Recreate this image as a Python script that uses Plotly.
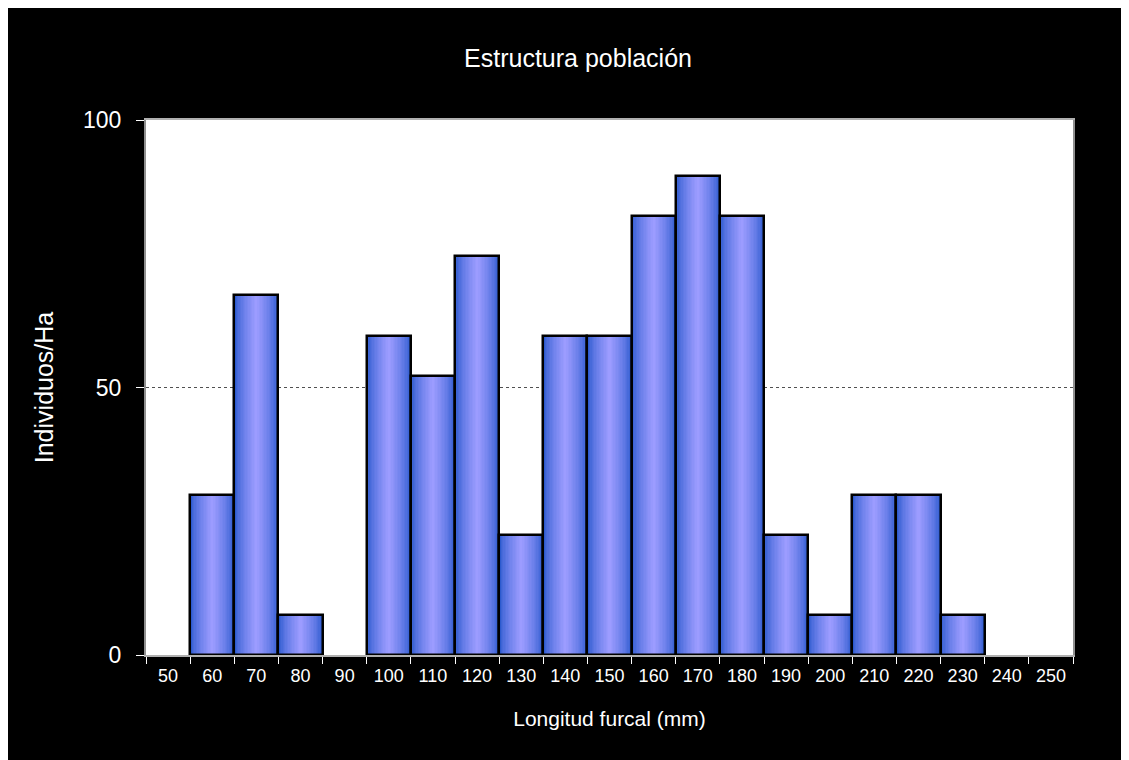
import plotly.graph_objects as go

# Longitud furcal (mm) - clases
clases = ["50", "60", "70", "80", "90", "100", "110", "120", "130", "140", "150",
          "160", "170", "180", "190", "200", "210", "220", "230", "240", "250"]
# Individuos/Ha por clase
individuos = [0, 29.85, 67.2, 7.46, 0, 59.7, 52.2, 74.6, 22.4, 59.7, 59.7,
              82.1, 89.5, 82.1, 22.4, 7.46, 29.85, 29.85, 7.46, 0, 0]

fuente = "Liberation Sans, Arial, sans-serif"
ANCHO, ALTO = 1129, 752

# las clases vacias no llevan barra (ni contorno)
valores = [v if v else None for v in individuos]

fig = go.Figure()

# degradado horizontal simulado con barras superpuestas cada vez mas estrechas
borde = (44, 90, 206)
centro = (156, 156, 255)
n_capas = 16
for i in range(n_capas):
    t = i / (n_capas - 1)
    w = 1.0 - 0.95 * t
    col = tuple(round(borde[k] + (centro[k] - borde[k]) * (t ** 0.7)) for k in range(3))
    fig.add_trace(go.Bar(
        x=clases, y=valores, width=w,
        marker=dict(color="rgb(%d,%d,%d)" % col, line=dict(width=0)),
        hoverinfo="skip", showlegend=False,
    ))

# contorno negro de cada barra
fig.add_trace(go.Bar(
    x=clases, y=valores, width=1.0,
    marker=dict(color="rgba(0,0,0,0)", line=dict(color="black", width=2.5)),
    showlegend=False, name="Individuos/Ha",
))

fig.update_layout(
    width=ANCHO, height=ALTO,
    barmode="overlay", bargap=0,
    paper_bgcolor="black", plot_bgcolor="white",
    margin=dict(l=138, r=ANCHO - 1065, t=112, b=105),
    font=dict(family=fuente, color="white"),
    title=dict(text="Estructura población", x=570 / ANCHO, xanchor="center",
               y=1 - 50 / ALTO, yanchor="middle", yref="container",
               font=dict(size=25, color="white")),
)

fig.update_xaxes(
    type="category", range=[-0.5, 20.5],
    tickson="boundaries", ticks="outside", ticklen=7, tickcolor="white", tickwidth=1,
    tickfont=dict(size=18, color="white"), ticklabelstandoff=3,
    showline=True, linecolor="#b0b0b0", linewidth=2, mirror=True,
    showgrid=False,
    title=dict(text="Longitud furcal (mm)", font=dict(size=21, color="white"), standoff=27),
)

fig.update_yaxes(
    range=[0, 100], tickvals=[0, 50, 100],
    ticks="outside", ticklen=8, tickcolor="white", tickwidth=1,
    tickfont=dict(size=23, color="white"), ticklabelstandoff=10,
    showline=True, linecolor="#909090", linewidth=2, mirror=True,
    showgrid=True, gridcolor="#505050", griddash="dot", gridwidth=1,
    zeroline=False,
    title=dict(text="Individuos/Ha", font=dict(size=25, color="white"), standoff=22),
)

fig.write_html("out.html")
